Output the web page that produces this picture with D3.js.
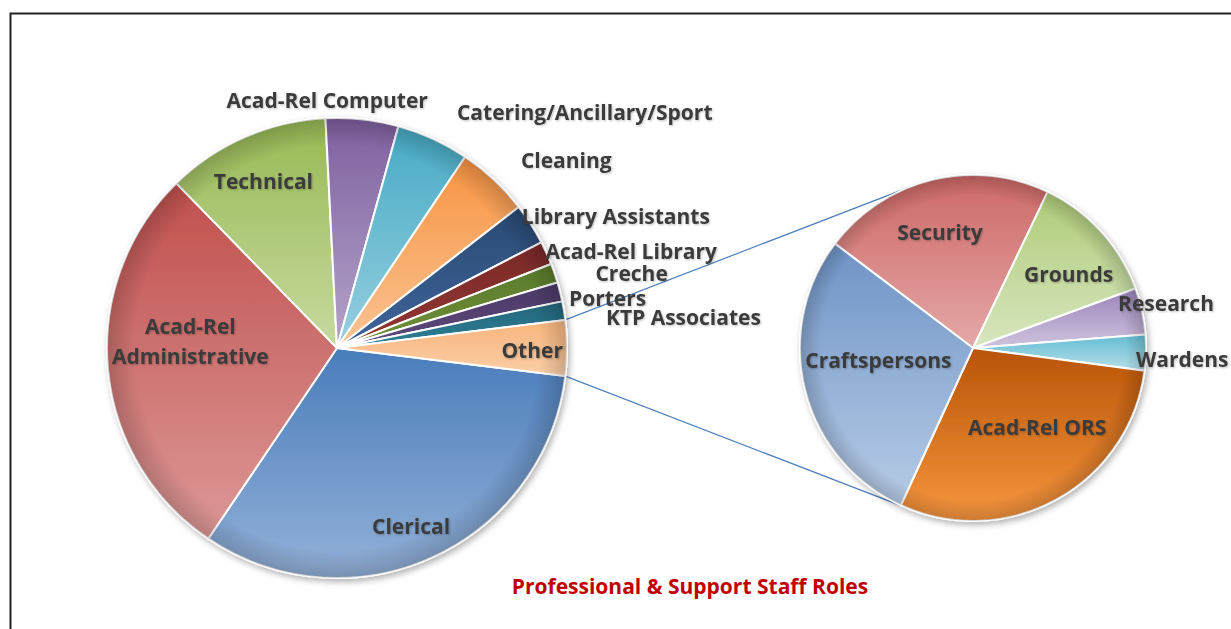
<!DOCTYPE html>
<html>
<head>
<meta charset="utf-8">
<script src="https://cdn.jsdelivr.net/npm/d3@7"></script>
<style>
  body { margin: 0; background: #fff; }
  text { font-family: "Open Sans", sans-serif; font-weight: bold; }
</style>
</head>
<body>
<svg id="chart" width="1231" height="629"></svg>
<script>
// Main pie: share of professional & support staff (percent of total)
var mainRoles = ["Clerical", "Acad-Rel Administrative", "Technical", "Acad-Rel Computer",
  "Catering/Ancillary/Sport", "Cleaning", "Library Assistants", "Acad-Rel Library",
  "Creche", "Porters", "KTP Associates"];
var mainShare = [32.5, 28.25, 11.5, 5.1, 5.1, 5.1, 2.9, 1.65, 1.35, 1.35, 1.3];

// Breakdown of "Other" (percent of total)
var otherRoles = ["Security", "Grounds", "Research", "Wardens", "Acad-Rel ORS", "Craftspersons"];
var otherShare = [0.85, 0.48, 0.17, 0.13, 1.16, 1.11];

var titleText = "Professional & Support Staff Roles";

// colours: [top, bottom] of the vertical gradient
var mainColours = {
  "Clerical": ["#4a7dbb", "#93b1d8"],
  "Acad-Rel Administrative": ["#c0504d", "#dc9896"],
  "Technical": ["#98b954", "#c6da9f"],
  "Acad-Rel Computer": ["#7e60a0", "#b4a4c9"],
  "Catering/Ancillary/Sport": ["#46aac5", "#97cfdf"],
  "Cleaning": ["#f79443", "#fac392"],
  "Library Assistants": ["#294a73", "#3f649a"],
  "Acad-Rel Library": ["#7a2a28", "#923634"],
  "Creche": ["#5a7a2c", "#739139"],
  "Porters": ["#4a3966", "#5f4a7c"],
  "KTP Associates": ["#24657a", "#2f8098"],
  "Other": ["#f8b47c", "#fbcfa8"]
};
var otherColours = {
  "Security": ["#cd6866", "#e4a8a7"],
  "Grounds": ["#aecb78", "#d8e6bf"],
  "Research": ["#9a85ba", "#cec3dd"],
  "Wardens": ["#62bcd3", "#b9dfe9"],
  "Acad-Rel ORS": ["#b85306", "#f7963f"],
  "Craftspersons": ["#6e93c6", "#b7cce6"]
};
var textColour = "#3b3b3b";
var linkColour = "#4f81bd";

// layout
var mainC = [337, 348], mainR = 230;
var subC = [973, 348], subR = 173;
var subStart = -52.9 * Math.PI / 180;

// label placement: [radius factor at mid angle, dx, dy, anchor]
var labelSpec = {
  "Clerical": [0.84, -6, 2, "middle"],
  "Acad-Rel Administrative": [0.64, 0, -20, "middle"],
  "Technical": [0.8, 0, 2, "middle"],
  "Acad-Rel Computer": [1, -35, -19, "middle"],
  "Catering/Ancillary/Sport": [1, 24, -27, "start"],
  "Cleaning": [1, 27, -20, "start"],
  "Library Assistants": [1, -9, -8, "start"],
  "Acad-Rel Library": [1, -1, -2, "start"],
  "Creche": [1, 41, 0, "start"],
  "Porters": [1, 9, 6, "start"],
  "KTP Associates": [1, 42, 6, "start"],
  "Other": [0.84, 2, 2, "middle"],
  "Security": [0.71, -4, 3, "middle"],
  "Grounds": [0.7, 6, 7, "middle"],
  "Research": [1, -24, -8, "start"],
  "Wardens": [1, -10, 6, "start"],
  "Acad-Rel ORS": [0.6, 14, -12, "middle"],
  "Craftspersons": [0.57, 1, -12, "middle"]
};
var labelLines = { "Acad-Rel Administrative": ["Acad-Rel", "Administrative"] };

var svg = d3.select("#chart");
var defs = svg.append("defs");

// frame
svg.append("rect")
  .attr("x", 10.5).attr("y", 13.5)
  .attr("width", 1240).attr("height", 640)
  .attr("fill", "#fff")
  .attr("stroke", "#222")
  .attr("stroke-width", 2);

var shadow = defs.append("filter").attr("id", "shadow")
  .attr("x", "-10%").attr("y", "-10%").attr("width", "130%").attr("height", "130%");
shadow.append("feDropShadow")
  .attr("dx", 2).attr("dy", 3).attr("stdDeviation", 3)
  .attr("flood-color", "#000").attr("flood-opacity", 0.3);

var textShadow = defs.append("filter").attr("id", "tshadow");
textShadow.append("feDropShadow")
  .attr("dx", 1).attr("dy", 1).attr("stdDeviation", 1)
  .attr("flood-color", "#000").attr("flood-opacity", 0.25);

var rim = defs.append("radialGradient").attr("id", "rim");
rim.append("stop").attr("offset", "88%").attr("stop-color", "#000").attr("stop-opacity", 0);
rim.append("stop").attr("offset", "100%").attr("stop-color", "#000").attr("stop-opacity", 0.18);

function makeGradient(id, pair) {
  var g = defs.append("linearGradient").attr("id", id)
    .attr("x1", 0).attr("y1", 0).attr("x2", 0).attr("y2", 1);
  g.append("stop").attr("offset", "0%").attr("stop-color", pair[0]);
  g.append("stop").attr("offset", "100%").attr("stop-color", pair[1]);
  return "url(#" + id + ")";
}

var mainData = mainRoles.map(function (name, i) { return { name: name, value: mainShare[i] }; });
var otherTotal = d3.sum(otherShare);
mainData.push({ name: "Other", value: otherTotal });
var subData = otherRoles.map(function (name, i) { return { name: name, value: otherShare[i] }; });

var total = d3.sum(mainData, function (d) { return d.value; });
var otherSpan = otherTotal / total * 2 * Math.PI;
var mainStart = Math.PI / 2 + otherSpan / 2;  // "Other" centred on the right

var mainArcs = d3.pie().sort(null).value(function (d) { return d.value; })
  .startAngle(mainStart).endAngle(mainStart + 2 * Math.PI)(mainData);
var subArcs = d3.pie().sort(null).value(function (d) { return d.value; })
  .startAngle(subStart).endAngle(subStart + 2 * Math.PI)(subData);

function polar(c, r, a) {
  return [c[0] + r * Math.sin(a), c[1] - r * Math.cos(a)];
}

// connector lines from the "Other" slice to the tangents of the second pie
var otherArc = mainArcs[mainArcs.length - 1];
var pTop = polar(mainC, mainR, otherArc.startAngle);
var pBot = polar(mainC, mainR, otherArc.endAngle);
function tangentPoint(p, upper) {
  var dx = p[0] - subC[0], dy = p[1] - subC[1];
  var d = Math.sqrt(dx * dx + dy * dy);
  var base = Math.atan2(dy, dx);
  var off = Math.acos(subR / d);
  var a = upper ? base + off : base - off;
  return [subC[0] + subR * Math.cos(a), subC[1] + subR * Math.sin(a)];
}
svg.append("line")
  .attr("x1", pTop[0]).attr("y1", pTop[1])
  .attr("x2", tangentPoint(pTop, true)[0]).attr("y2", tangentPoint(pTop, true)[1])
  .attr("stroke", linkColour).attr("stroke-width", 1.2);
svg.append("line")
  .attr("x1", pBot[0]).attr("y1", pBot[1])
  .attr("x2", tangentPoint(pBot, false)[0]).attr("y2", tangentPoint(pBot, false)[1])
  .attr("stroke", linkColour).attr("stroke-width", 1.2);

function drawPie(arcs, c, r, colours, prefix) {
  var arc = d3.arc().innerRadius(0).outerRadius(r);
  var g = svg.append("g")
    .attr("transform", "translate(" + c[0] + "," + c[1] + ")")
    .attr("filter", "url(#shadow)");
  g.selectAll("path.slice")
    .data(arcs)
    .enter().append("path")
    .attr("class", "slice")
    .attr("d", arc)
    .attr("fill", function (d, i) { return makeGradient(prefix + i, colours[d.data.name]); })
    .attr("stroke", "#fff")
    .attr("stroke-width", 2)
    .attr("stroke-linejoin", "round");
  svg.append("circle")
    .attr("cx", c[0]).attr("cy", c[1]).attr("r", r)
    .attr("fill", "url(#rim)")
    .attr("pointer-events", "none");
}

function drawLabels(arcs, c, r) {
  arcs.forEach(function (d) {
    var spec = labelSpec[d.data.name];
    var mid = (d.startAngle + d.endAngle) / 2;
    var p = polar(c, r * spec[0], mid);
    var x = p[0] + spec[1], y = p[1] + spec[2];
    var lines = labelLines[d.data.name] || [d.data.name];
    var t = svg.append("text")
      .attr("x", x).attr("y", y)
      .attr("text-anchor", spec[3])
      .attr("fill", textColour)
      .attr("font-size", 21)
      .attr("filter", "url(#tshadow)");
    var lh = 30;
    lines.forEach(function (line, i) {
      t.append("tspan")
        .attr("x", x)
        .attr("y", y + (i - (lines.length - 1) / 2) * lh)
        .attr("dominant-baseline", "central")
        .text(line);
    });
  });
}

drawPie(mainArcs, mainC, mainR, mainColours, "gm");
drawPie(subArcs, subC, subR, otherColours, "gs");
drawLabels(mainArcs, mainC, mainR);
drawLabels(subArcs, subC, subR);

svg.append("text")
  .attr("x", 690).attr("y", 586)
  .attr("text-anchor", "middle")
  .attr("dominant-baseline", "central")
  .attr("fill", "#c00000")
  .attr("font-size", 21)
  .text(titleText);
</script>
</body>
</html>
